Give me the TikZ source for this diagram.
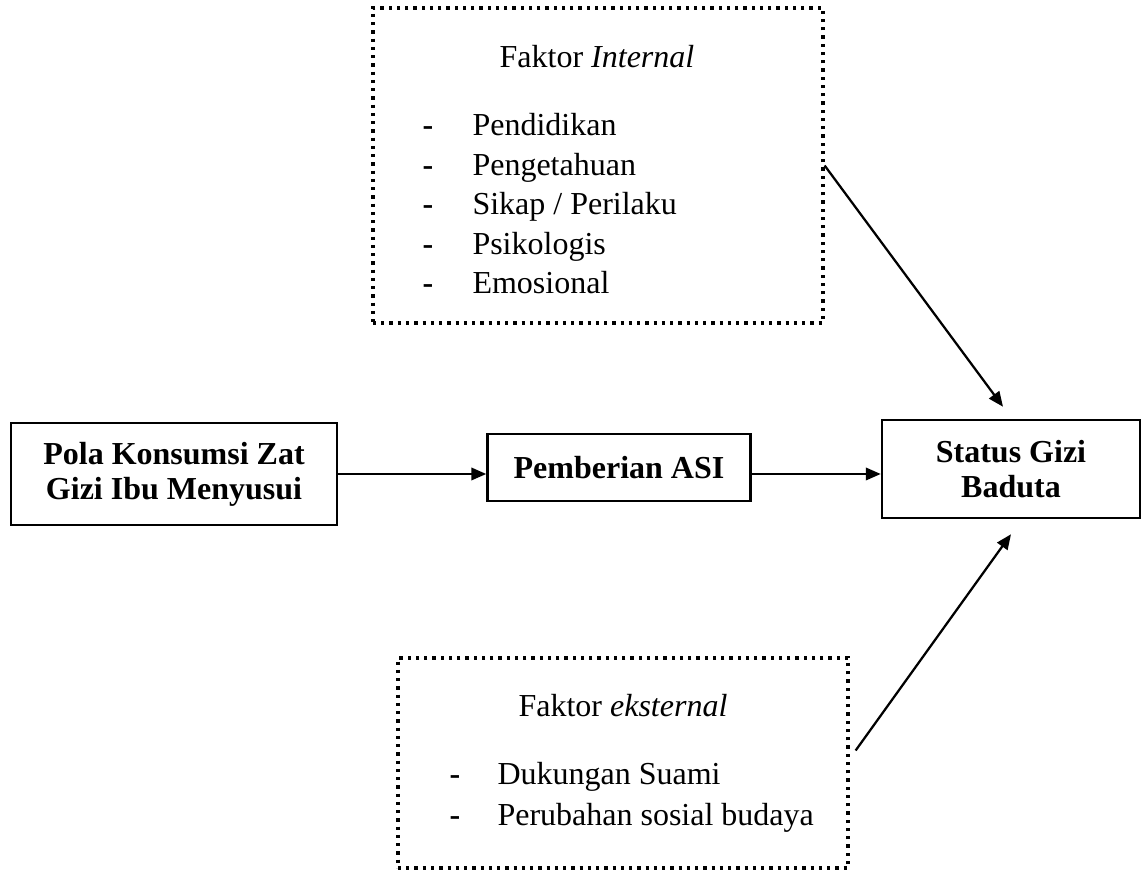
\documentclass[tikz,border=0pt]{standalone}
\usepackage{fontspec}
\setmainfont{Liberation Serif}
\usetikzlibrary{positioning, calc, arrows.meta}
\tikzset{
	box/.style={draw, line width=1pt, align=center, inner sep=0pt, font=\fontsize{12.8}{14}\selectfont\bfseries},
	dotbox/.style={draw, line width=1.3pt, dash pattern=on 1.3pt off 2pt, inner sep=0pt},
	link/.style={line width=0.9pt, -{Triangle[length=6pt, width=5pt]}},
	item/.style={anchor=base west, inner sep=0pt},
	bullet/.style={anchor=base, inner sep=0pt, font=\fontsize{12.8}{16}\selectfont\bfseries},
}

\begin{document}
\begin{tikzpicture}[x=0.4pt, y=-0.4pt, font=\fontsize{12.8}{16}\selectfont]
		\useasboundingbox (0,0) rectangle (1148,870);

		\node[box, minimum width=130.4pt, minimum height=40.8pt] (pola) at (174,474) {Pola Konsumsi Zat\\Gizi Ibu Menyusui};
		\node[box, minimum width=105.2pt, minimum height=26.8pt] (asi) at (619,467.5) {Pemberian ASI};
		\node[box, minimum width=103.2pt, minimum height=39.2pt] (status) at (1011,469) {Status Gizi\\Baduta};

		\node[dotbox, minimum width=180pt, minimum height=126pt] (internal) at (598,165.5) {};
		\node[anchor=base, inner sep=0pt] (intitle) at (597,68) {Faktor \textit{Internal}};
		\foreach \txt [count=\i] in {Pendidikan, Pengetahuan, Sikap / Perilaku, Psikologis, Emosional} {
			\node[bullet] (indash\i) at (428,{136+39.5*(\i-1)}) {-};
			\node[item] (initem\i) at (472,{136+39.5*(\i-1)}) {\txt};
		}

		\node[dotbox, minimum width=180pt, minimum height=84pt] (eksternal) at (623,763) {};
		\node[anchor=base, inner sep=0pt] (ektitle) at (623,717) {Faktor \textit{eksternal}};
		\foreach \txt [count=\i] in {Dukungan Suami, Perubahan sosial budaya} {
			\node[bullet] (ekdash\i) at (455,{785+41*(\i-1)}) {-};
			\node[item] (ekitem\i) at (497,{785+41*(\i-1)}) {\txt};
		}

		\draw[link] (pola.east) -- (pola.east -| asi.west);
		\draw[link] (asi.east |- pola.east) -- (pola.east -| status.west);
		\draw[link] (internal.east) -- ([xshift=-3.2pt, yshift=4.8pt]status.north);
		\draw[link] ([xshift=2.4pt, yshift=5pt]eksternal.east) -- ([yshift=-6pt]status.south);
	\end{tikzpicture}
\end{document}
